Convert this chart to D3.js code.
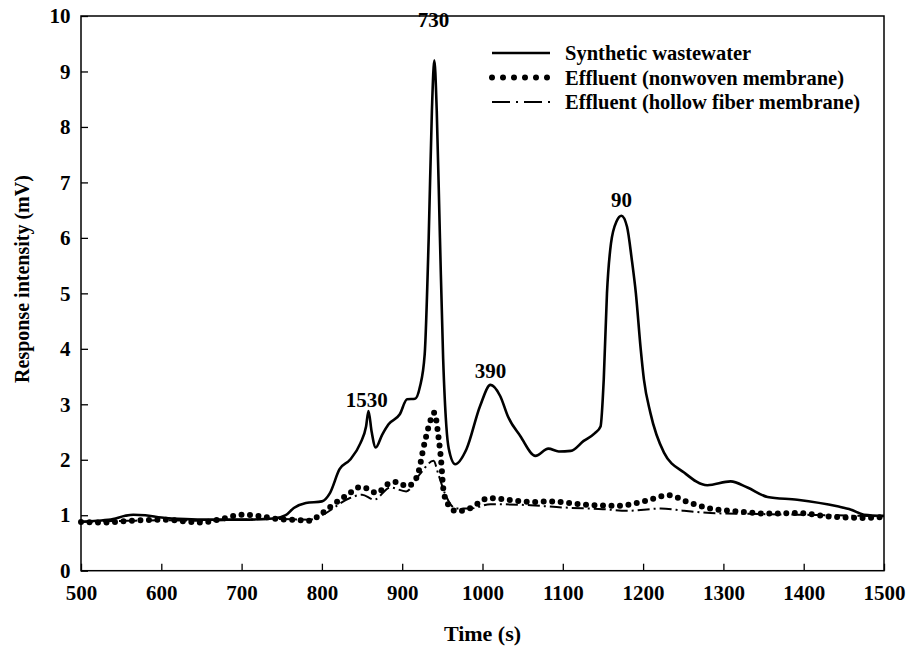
<!DOCTYPE html>
<html>
<head>
<meta charset="utf-8">
<script src="https://cdn.jsdelivr.net/npm/d3@7"></script>
<style>
  body { margin: 0; background: #fff; }
  text { font-family: "Liberation Serif", "Times New Roman", serif; font-weight: bold; fill: #000; }
</style>
</head>
<body>
<div id="chartContainer"></div>
<script>
// synthetic wastewater
var swTime = [500, 520, 540, 555, 565, 580, 600, 630, 660, 700, 740, 755, 765, 780, 800, 810, 822, 835, 848, 855, 858, 862, 867, 875, 883, 897, 906, 916, 922, 928, 933, 937, 940, 943, 947, 951, 955, 958, 966, 980, 997, 1010, 1022, 1032, 1047, 1066, 1082, 1095, 1110, 1126, 1140, 1147, 1151, 1155, 1160, 1167, 1173, 1180, 1186, 1191, 1197, 1201, 1209, 1226, 1251, 1280, 1309, 1330, 1355, 1392, 1442, 1459, 1475, 1500];
var swValue = [0.88, 0.9, 0.93, 0.99, 1.01, 1.0, 0.96, 0.93, 0.92, 0.92, 0.94, 1.0, 1.13, 1.22, 1.25, 1.4, 1.83, 2.0, 2.3, 2.6, 2.88, 2.5, 2.22, 2.45, 2.64, 2.82, 3.09, 3.1, 3.31, 3.9, 6.0, 8.3, 9.2, 8.3, 6.0, 3.82, 2.6, 2.2, 1.92, 2.19, 2.97, 3.35, 3.15, 2.77, 2.43, 2.07, 2.2, 2.15, 2.16, 2.34, 2.48, 2.6, 3.45, 5.0, 5.9, 6.3, 6.4, 6.2, 5.6, 5.0, 4.0, 3.45, 2.85, 2.13, 1.77, 1.54, 1.61, 1.5, 1.33, 1.28, 1.16, 1.1, 1.01, 0.99];

// effluent, nonwoven membrane
var nwTime = [500, 530, 560, 600, 650, 680, 700, 720, 745, 764, 785, 797, 814, 835, 848, 858, 868, 883, 893, 906, 918, 928, 935, 940, 945, 949, 951, 956, 968, 985, 1008, 1030, 1064, 1085, 1126, 1168, 1201, 1232, 1255, 1284, 1318, 1355, 1392, 1430, 1475, 1500];
var nwValue = [0.88, 0.87, 0.9, 0.92, 0.87, 0.95, 1.01, 0.99, 0.93, 0.92, 0.9, 1.0, 1.19, 1.4, 1.51, 1.47, 1.4, 1.57, 1.6, 1.52, 1.68, 2.31, 2.7, 2.85, 2.43, 1.89, 1.5, 1.22, 1.07, 1.13, 1.31, 1.28, 1.24, 1.25, 1.19, 1.17, 1.25, 1.36, 1.24, 1.12, 1.07, 1.03, 1.04, 0.98, 0.95, 0.97];

// effluent, hollow fiber membrane
var hfTime = [500, 560, 600, 650, 700, 750, 785, 800, 835, 850, 865, 885, 905, 922, 939, 945, 953, 967, 985, 1010, 1060, 1100, 1150, 1180, 1222, 1251, 1284, 1350, 1430, 1500];
var hfValue = [0.88, 0.9, 0.91, 0.9, 0.92, 0.93, 0.92, 1.0, 1.31, 1.37, 1.28, 1.5, 1.43, 1.74, 1.98, 1.74, 1.4, 1.12, 1.12, 1.2, 1.18, 1.14, 1.11, 1.08, 1.12, 1.08, 1.04, 1.02, 1.0, 0.98];

var seriesNames = ["Synthetic wastewater", "Effluent (nonwoven membrane)", "Effluent (hollow fiber membrane)"];

var xTicks = [500, 600, 700, 800, 900, 1000, 1100, 1200, 1300, 1400, 1500];
var yTicks = [0, 1, 2, 3, 4, 5, 6, 7, 8, 9, 10];

var peakLabels = ["1530", "730", "390", "90"];
var peakTime = [856, 939, 1010, 1173];
var peakLabelValue = [2.95, 9.8, 3.47, 6.55];

var chartW = 907, chartH = 648;
var plotLeft = 81, plotRight = 884, plotTop = 16, plotBottom = 570.7;

var svg = d3.select("#chartContainer")
  .append("svg")
  .attr("width", chartW)
  .attr("height", chartH);

var xScale = d3.scaleLinear().domain([500, 1500]).range([plotLeft, plotRight]);
var yScale = d3.scaleLinear().domain([0, 10]).range([plotBottom, plotTop]);

function zip(t, v) {
  return t.map(function(d, i) { return { x: d, y: v[i] }; });
}

var line = d3.line()
  .x(function(d) { return xScale(d.x); })
  .y(function(d) { return yScale(d.y); })
  .curve(d3.curveMonotoneX);

// axes
var xAxis = svg.append("g")
  .attr("transform", "translate(0," + plotBottom + ")")
  .call(d3.axisBottom(xScale).tickValues(xTicks).tickSizeInner(-7).tickSizeOuter(0).tickPadding(14).tickFormat(d3.format("d")));
xAxis.selectAll("text").style("font-size", "21px");

var yAxis = svg.append("g")
  .attr("transform", "translate(" + plotLeft + ",0)")
  .call(d3.axisLeft(yScale).tickValues(yTicks).tickSizeInner(-7).tickSizeOuter(0).tickPadding(10.5));
yAxis.selectAll("text").style("font-size", "21px");

svg.selectAll(".domain").remove();
svg.selectAll(".tick line").attr("stroke", "#000").attr("stroke-width", 1.3);

svg.append("rect")
  .attr("x", plotLeft).attr("y", plotTop)
  .attr("width", plotRight - plotLeft).attr("height", plotBottom - plotTop)
  .attr("fill", "none").attr("stroke", "#000").attr("stroke-width", 1.5);

// series
svg.append("path")
  .datum(zip(hfTime, hfValue))
  .attr("fill", "none").attr("stroke", "#000").attr("stroke-width", 2)
  .attr("stroke-dasharray", "12,4,2,4")
  .attr("d", line);

svg.append("path")
  .datum(zip(nwTime, nwValue))
  .attr("fill", "none").attr("stroke", "#000").attr("stroke-width", 6)
  .attr("stroke-linecap", "round").attr("stroke-dasharray", "0,8.5")
  .attr("d", line);

svg.append("path")
  .datum(zip(swTime, swValue))
  .attr("fill", "none").attr("stroke", "#000").attr("stroke-width", 2.6)
  .attr("stroke-linejoin", "round")
  .attr("d", line);

// peak labels
svg.selectAll(".peak")
  .data(peakLabels)
  .enter().append("text")
  .attr("x", function(d, i) { return xScale(peakTime[i]); })
  .attr("y", function(d, i) { return yScale(peakLabelValue[i]); })
  .attr("text-anchor", "middle")
  .style("font-size", "21px")
  .text(function(d) { return d; });

// legend
var legendStyles = [
  { w: 2.6, dash: null, cap: "butt" },
  { w: 6, dash: "0,11", cap: "round" },
  { w: 2, dash: "18,6,2,6", cap: "butt" }
];
var legend = svg.selectAll(".legend")
  .data(seriesNames)
  .enter().append("g")
  .attr("transform", function(d, i) { return "translate(492," + (53 + i * 24.5) + ")"; });

legend.append("line")
  .attr("x1", 0).attr("x2", 58)
  .attr("stroke", "#000")
  .attr("stroke-width", function(d, i) { return legendStyles[i].w; })
  .attr("stroke-linecap", function(d, i) { return legendStyles[i].cap; })
  .attr("stroke-dasharray", function(d, i) { return legendStyles[i].dash; });

legend.append("text")
  .attr("x", 73).attr("y", 7)
  .style("font-size", "20.5px")
  .text(function(d) { return d; });

// axis titles
svg.append("text")
  .attr("x", (plotLeft + plotRight) / 2).attr("y", 641)
  .attr("text-anchor", "middle")
  .style("font-size", "22px")
  .text("Time (s)");

svg.append("text")
  .attr("transform", "translate(29,279) rotate(-90)")
  .attr("text-anchor", "middle")
  .style("font-size", "20px")
  .text("Response intensity (mV)");
</script>
</body>
</html>
